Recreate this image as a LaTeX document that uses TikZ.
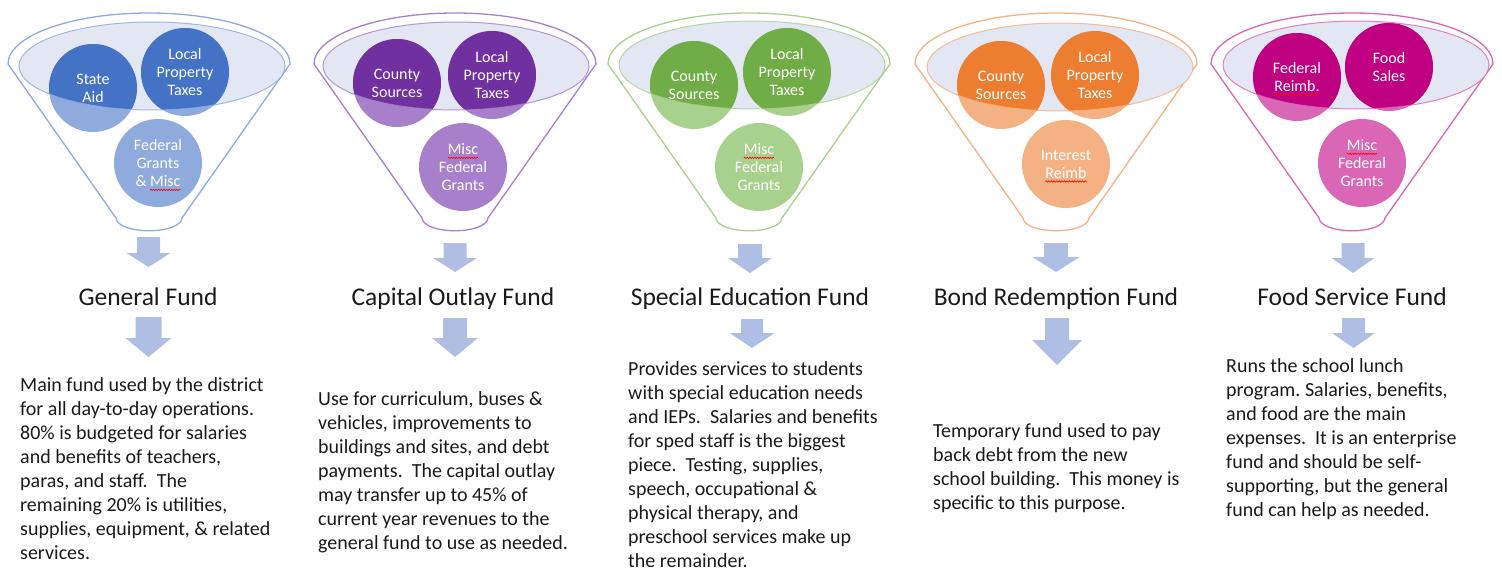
\documentclass[tikz,border=0pt]{standalone}
\usepackage{fontspec}
\setmainfont{Carlito}
\usetikzlibrary{decorations.pathmorphing}
\frenchspacing

\definecolor{blueD}{HTML}{4472C4}
\definecolor{blueL}{HTML}{8FAADC}
\definecolor{purD}{HTML}{7030A0}
\definecolor{purL}{HTML}{A87FCB}
\definecolor{grnD}{HTML}{70AD47}
\definecolor{grnL}{HTML}{A9D18E}
\definecolor{orgD}{HTML}{ED7D31}
\definecolor{orgL}{HTML}{F4B183}
\definecolor{magD}{HTML}{BF0080}
\definecolor{magL}{HTML}{DA67B5}
\definecolor{bowl}{HTML}{E3E6F3}
\definecolor{arrowc}{HTML}{AFBFE3}
\definecolor{ink}{HTML}{1A1A1A}

% red wavy proofing mark under a word
\newsavebox\spellbox
\newlength\spellw
\newcommand\spellmark[1]{\sbox\spellbox{#1}\setlength\spellw{\wd\spellbox}%
  \rlap{\tikz[overlay,baseline=0pt,x=1pt,y=1pt]\draw[red,line width=0.6pt,decorate,
    decoration={snake,amplitude=0.7pt,segment length=2.6pt}] (0,-3.4) -- (\spellw,-3.4);}%
  \usebox\spellbox}
% left-aligned block of lines, baseline on the first line
\newcommand\txtlines[1]{\vtop{\baselineskip=24pt\halign{##\hfil\cr#1\crcr}}}
% funnel outline: centre x, outline colour
\newcommand\funnelshell[2]{%
  \draw[shell=#2] (#1-141,64) arc[start angle=180,end angle=360,x radius=141,y radius=51]
    -- (#1+33,218) .. controls (#1+31,235) and (#1-31,235) .. (#1-33,218) -- cycle;}
% block arrow pointing down: cx, top, head start, tip, shaft half width, head half width
\newcommand\blockarrow[6]{%
  \fill[flow] (#1-#5,#2) -- (#1+#5,#2) -- (#1+#5,#3) -- (#1+#6,#3) -- (#1,#4)
    -- (#1-#6,#3) -- (#1-#5,#3) -- cycle;}

\tikzset{
  src/.style={circle, minimum size=88pt, inner sep=0pt, text=white, align=center,
    font=\fontsize{16}{18}\selectfont},
  lowsrc/.style={src, fill=#1},
  topsrc/.style n args={3}{src, fill=#2,
    path picture={\fill[#1] (#3) ellipse[x radius=133, y radius=44];}},
  shell/.style={draw=#1, line width=1.3pt, fill=white},
  rim/.style={draw=#1, line width=1pt, opacity=0.8},
  title/.style={anchor=base, text=ink, inner sep=0pt, font=\fontsize{25.5}{30}\selectfont},
  body/.style={anchor=base west, text=ink, inner sep=0pt, font=\fontsize{20}{24}\selectfont},
  flow/.style={fill=arrowc},
}

\begin{document}
\begin{tikzpicture}[x=1pt,y=-1pt]
\useasboundingbox (0,0) rectangle (1502,570);

% ---------- General Fund ----------
\funnelshell{149}{blueL}
\coordinate (b1) at (152,66);
\fill[bowl] (b1) ellipse[x radius=133, y radius=44];
\node[lowsrc=blueL] (f1c) at (158,163) {Federal\\Grants\\\& \spellmark{Misc}};
\node[topsrc={blueD}{blueL}{b1}] (f1a) at (93,88) {State\\Aid};
\node[topsrc={blueD}{blueL}{b1}] (f1b) at (185,72) {Local\\Property\\Taxes};
\draw[rim=blueL] (b1) ellipse[x radius=133, y radius=44];

% ---------- Capital Outlay Fund ----------
\funnelshell{455}{purL}
\coordinate (b2) at (456,66);
\fill[bowl] (b2) ellipse[x radius=133, y radius=44];
\node[lowsrc=purL] (f2c) at (463,167) {\spellmark{Misc}\\Federal\\Grants};
\node[topsrc={purD}{purL}{b2}] (f2a) at (397,83) {County\\Sources};
\node[topsrc={purD}{purL}{b2}] (f2b) at (492,75) {Local\\Property\\Taxes};
\draw[rim=purL] (b2) ellipse[x radius=133, y radius=44];

% ---------- Special Education Fund ----------
\funnelshell{749}{grnL}
\coordinate (b3) at (752,65);
\fill[bowl] (b3) ellipse[x radius=133, y radius=44];
\node[lowsrc=grnL] (f3c) at (759,167) {\spellmark{Misc}\\Federal\\Grants};
\node[topsrc={grnD}{grnL}{b3}] (f3a) at (694,85) {County\\Sources};
\node[topsrc={grnD}{grnL}{b3}] (f3b) at (787,72) {Local\\Property\\Taxes};
\draw[rim=grnL] (b3) ellipse[x radius=133, y radius=44];

% ---------- Bond Redemption Fund ----------
\funnelshell{1056}{orgL}
\coordinate (b4) at (1060,67);
\fill[bowl] (b4) ellipse[x radius=133, y radius=44];
\node[lowsrc=orgL] (f4c) at (1066,164) {Interest\\\spellmark{Reimb}};
\node[topsrc={orgD}{orgL}{b4}] (f4a) at (1001,85) {County\\Sources};
\node[topsrc={orgD}{orgL}{b4}] (f4b) at (1095,75) {Local\\Property\\Taxes};
\draw[rim=orgL] (b4) ellipse[x radius=133, y radius=44];

% ---------- Food Service Fund ----------
\funnelshell{1352}{magL}
\coordinate (b5) at (1356,65);
\fill[bowl] (b5) ellipse[x radius=133, y radius=44];
\node[lowsrc=magL] (f5c) at (1362,163) {\spellmark{Misc}\\Federal\\Grants};
\node[topsrc={magD}{magL}{b5}] (f5a) at (1297,77) {Federal\\\spellmark{Reimb.}};
\node[topsrc={magD}{magL}{b5}] (f5b) at (1389,67) {Food\\Sales};
\draw[rim=magL] (b5) ellipse[x radius=133, y radius=44];

% ---------- arrows from funnels to fund names ----------
\blockarrow{148.5}{237}{253}{267}{11.5}{22}
\blockarrow{455}{243}{258}{272}{11.5}{22}
\blockarrow{750}{244}{258}{273}{12}{22}
\blockarrow{1056}{243}{257}{272}{12}{23.5}
\blockarrow{1353}{243}{258}{273}{11.5}{21.5}

% ---------- fund names ----------
\node[title] (n1) at (148,305) {General Fund};
\node[title] (n2) at (453,305) {Capital Outlay Fund};
\node[title] (n3) at (750,305) {Special Education Fund};
\node[title] (n4) at (1056,305) {Bond Redemption Fund};
\node[title] (n5) at (1352,305) {Food Service Fund};

% ---------- arrows from fund names to descriptions ----------
\blockarrow{148.5}{317}{338}{357}{13}{23}
\blockarrow{455}{318}{338}{357}{12}{23}
\blockarrow{752}{319}{333}{348}{11}{22.5}
\blockarrow{1057}{318}{340}{365}{12}{25}
\blockarrow{1353.5}{318}{333}{348}{11.5}{21.5}

% ---------- descriptions ----------
\node[body] (d1) at (20,391) {\txtlines{Main fund used by the district\cr
for all day-to-day operations.\cr
80\% is budgeted for salaries\cr
and benefits of teachers,\cr
paras, and staff.~ The\cr
remaining 20\% is utilities,\cr
supplies, equipment, \& related\cr
services.}};
\node[body] (d2) at (318,405) {\txtlines{Use for curriculum, buses \&\cr
vehicles, improvements to\cr
buildings and sites, and debt\cr
payments.~ The capital outlay\cr
may transfer up to 45\% of\cr
current year revenues to the\cr
general fund to use as needed.}};
\node[body] (d3) at (628,375) {\txtlines{Provides services to students\cr
with special education needs\cr
and IEPs.~ Salaries and benefits\cr
for sped staff is the biggest\cr
piece.~ Testing, supplies,\cr
speech, occupational \&\cr
physical therapy, and\cr
preschool services make up\cr
the remainder.}};
\node[body] (d4) at (933,437) {\txtlines{Temporary fund used to pay\cr
back debt from the new\cr
school building.~ This money is\cr
specific to this purpose.}};
\node[body] (d5) at (1226,372) {\txtlines{Runs the school lunch\cr
program. Salaries, benefits,\cr
and food are the main\cr
expenses.~ It is an enterprise\cr
fund and should be self-\cr
supporting, but the general\cr
fund can help as needed.}};
\end{tikzpicture}
\end{document}
